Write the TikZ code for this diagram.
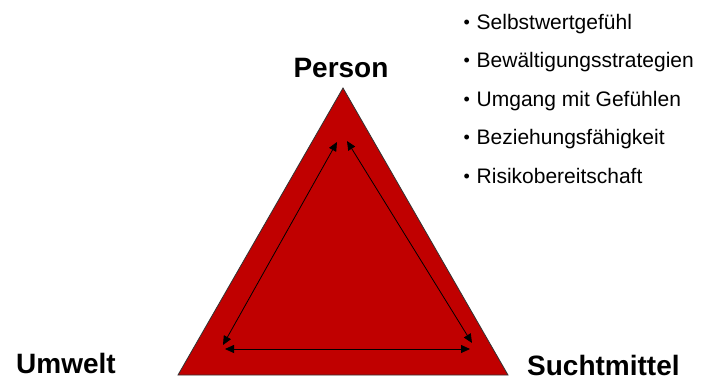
\documentclass[tikz,border=0pt]{standalone}
\usepackage{fontspec}
\setmainfont{Liberation Sans}
\usepackage{xcolor}
\usetikzlibrary{arrows.meta, positioning}

\definecolor{dreieckrot}{RGB}{192,0,0}

\begin{document}
\begin{tikzpicture}[
  x=1pt, y=-1pt,
  ecke/.style={font=\fontsize{28}{30}\selectfont\bfseries, inner sep=0pt, anchor=base west},
  punkt/.style={font=\fontsize{21}{24}\selectfont, inner sep=0pt, anchor=base west},
  pfeil/.style={{Triangle[length=9pt, width=8pt]}-{Triangle[length=9pt, width=8pt]}, line width=0.8pt, black},
]
\useasboundingbox (0,0) rectangle (701,381);

% ============ triangle ============
\coordinate (spitze) at (343,88);
\coordinate (links)  at (178,375);
\coordinate (rechts) at (508,375);
\filldraw[fill=dreieckrot, draw=black!80, line width=0.8pt] (spitze) -- (links) -- (rechts) -- cycle;

% inner arrows
\coordinate (a1) at (223,345); \coordinate (a2) at (337,142);
\coordinate (b1) at (347,141); \coordinate (b2) at (472,343);
\coordinate (c1) at (225,349); \coordinate (c2) at (470,349);
\draw[pfeil] (a1) -- (a2);
\draw[pfeil] (b1) -- (b2);
\draw[pfeil] (c1) -- (c2);

% ============ corner labels ============
\node[ecke, anchor=base] (person) at (341,77)  {Person};
\node[ecke] (umwelt)  at (16,373)  {Umwelt};
\node[ecke] (sucht)   at (527,375) {Suchtmittel};

% ============ list ============
\foreach \txt [count=\i from 0] in {Selbstwertgefühl, Bewältigungsstrategien,
    Umgang mit Gefühlen, Beziehungsfähigkeit, Risikobereitschaft}
  \node[punkt] (item\i) at (463.5, 29+38.5*\i)
    {\makebox[13pt][l]{\raisebox{1pt}{\fontsize{18}{18}\selectfont •}}\txt};

\end{tikzpicture}
\end{document}
